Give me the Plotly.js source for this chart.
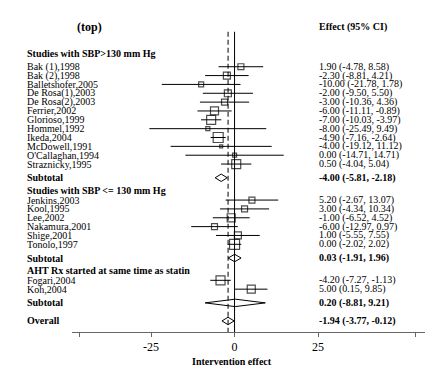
<!DOCTYPE html>
<html><head><meta charset="utf-8">
<script src="https://cdn.plot.ly/plotly-3.0.1.min.js"></script>
<style>html,body{margin:0;padding:0;background:#fff}#chart{width:434px;height:367px}</style>
</head><body><div id="chart"></div>
<script>
const groupTitles = ['Studies with SBP>130 mm Hg', 'Studies with SBP <= 130 mm Hg', 'AHT Rx started at same time as statin'];
const studyNames = ['Bak (1),1998','Bak (2),1998','Balletshofer,2005','De Rosa(1),2003','De Rosa(2),2003','Ferrier,2002','Glorioso,1999','Hommel,1992','Ikeda,2004','McDowell,1991',"O'Callaghan,1994",'Straznicky,1995',
  'Jenkins,2003','Kool,1995','Lee,2002','Nakamura,2001','Shige,2001','Tonolo,1997',
  'Fogari,2004','Koh,2004'];
const studyGroup = [0,0,0,0,0,0,0,0,0,0,0,0, 1,1,1,1,1,1, 2,2];
const studyEst  = [1.90,-2.30,-10.00,-2.00,-3.00,-6.00,-7.00,-8.00,-4.90,-4.00,0.00,0.50, 5.20,3.00,-1.00,-6.00,1.00,0.00, -4.20,5.00];
const studyLow  = [-4.78,-8.81,-21.78,-9.50,-10.36,-11.11,-10.03,-25.49,-7.16,-19.12,-14.71,-4.04, -2.67,-4.34,-6.52,-12.97,-5.55,-2.02, -7.27,0.15];
const studyHigh = [8.58,4.21,1.78,5.50,4.36,-0.89,-3.97,9.49,-2.64,11.12,14.71,5.04, 13.07,10.34,4.52,0.97,7.55,2.02, -1.13,9.85];
const studyWeight = [5.3,7.2,3.7,7.2,5.3,9.5,12.0,2.4,14.8,1.3,2.4,12.0, 5.3,5.3,9.5,5.3,7.2,14.8, 12.0,9.5];
const subtotalEst  = [-4.00, 0.03, 0.20];
const subtotalLow  = [-5.81, -1.91, -8.81];
const subtotalHigh = [-2.18, 1.96, 9.21];
const overallEst = -1.94, overallLow = -3.77, overallHigh = -0.12;
const xTickLabels = ['-25', '0', '25'];

const FONT = 'Liberation Serif, Times New Roman, serif';
const esc = s => s.replace(/</g,'&lt;').replace(/>/g,'&gt;');
const fmt = v => v.toFixed(2);
const ciText = (e,l,h) => `${fmt(e)} (${fmt(l)}, ${fmt(h)})`;

// row layout (y increases downward)
const yTop = -3.73, yBottom = 31.53;
const headerY = [], studyY = [], subY = [];
let cur = 0;
for (let g = 0; g < groupTitles.length; g++) {
  headerY.push(cur);
  cur += (g === 0 ? 1.55 : 1.12);
  let last = cur;
  studyNames.forEach((n, i) => { if (studyGroup[i] === g) { studyY[i] = cur; last = cur; cur += 1; } });
  subY.push(last + 1.55);
  cur = last + 1.55 + 1.4;
}
const overallY = subY[subY.length - 1] + 2.04;
const titleY = -2.94;

const traces = [];
// reference lines
traces.push({x:[0,0], y:[-2.4, yBottom], mode:'lines', line:{color:'#000', width:1}, hoverinfo:'skip'});
traces.push({x:[overallEst, overallEst], y:[-2.4, yBottom], mode:'lines', line:{color:'#000', width:1, dash:'5px,3px'}, hoverinfo:'skip'});
// CI lines
const cx = [], cy = [];
studyNames.forEach((n,i) => { cx.push(studyLow[i], studyHigh[i], null); cy.push(studyY[i], studyY[i], null); });
traces.push({x:cx, y:cy, mode:'lines', line:{color:'#000', width:1}, hoverinfo:'skip'});
// boxes
traces.push({x:studyEst, y:studyY, mode:'markers',
  marker:{symbol:'square-open', size:studyWeight.map(w => 2.6*Math.sqrt(w)), color:'#000', line:{color:'#000', width:1.2}}, hoverinfo:'skip'});
// diamonds
const dx = [], dy = [], h = 0.42;
const addDiamond = (e,l,hh,y) => { dx.push(l, e, hh, e, l, null); dy.push(y, y-h, y, y+h, y, null); };
subtotalEst.forEach((e,g) => addDiamond(e, subtotalLow[g], subtotalHigh[g], subY[g]));
addDiamond(overallEst, overallLow, overallHigh, overallY);
traces.push({x:dx, y:dy, mode:'lines', line:{color:'#000', width:1}, hoverinfo:'skip'});

const LX = -0.133, RX = 0.695;
const ann = [];
const A = (x, y, text, opts={}) => ann.push(Object.assign({xref:'paper', yref:'y', x, y, text, showarrow:false,
  xanchor:'left', yanchor:'middle', font:{family:FONT, size:10, color:'#000'}}, opts));
A(0.05, titleY, '<b>(top)</b>', {xanchor:'center', font:{family:FONT, size:12, color:'#000'}});
A(RX, titleY, '<b>Effect (95% CI)</b>');
groupTitles.forEach((t,g) => {
  A(LX, headerY[g], '<b>' + esc(t) + '</b>');
  A(LX, subY[g], '<b>Subtotal</b>');
  A(RX, subY[g], '<b>' + ciText(subtotalEst[g], subtotalLow[g], subtotalHigh[g]) + '</b>');
});
studyNames.forEach((n,i) => {
  A(LX, studyY[i], esc(n));
  A(RX, studyY[i], ciText(studyEst[i], studyLow[i], studyHigh[i]));
});
A(LX, overallY, '<b>Overall</b>');
A(RX, overallY, '<b>' + ciText(overallEst, overallLow, overallHigh) + '</b>');
ann.push({xref:'paper', yref:'paper', x:0.452, y:-0.096, text:'<b>Intervention effect</b>', showarrow:false,
  xanchor:'center', yanchor:'middle', font:{family:FONT, size:10, color:'#000'}});

const layout = {
  width:434, height:367,
  margin:{l:72, r:9, t:20, b:35, pad:0},
  paper_bgcolor:'#fff', plot_bgcolor:'#fff',
  showlegend:false, hovermode:false,
  font:{family:FONT, color:'#000'},
  xaxis:{range:[-48.65, 57.0], showgrid:false, zeroline:false, showline:true, linecolor:'#666', linewidth:1,
    ticks:'outside', ticklen:4, tickcolor:'#666', tickwidth:1,
    tickvals:[-46.3, -25, 0, 25, 54.3], ticktext:['', ...xTickLabels, ''],
    tickfont:{family:FONT, size:12, color:'#000'}},
  yaxis:{range:[yBottom, yTop], visible:false, showgrid:false, zeroline:false},
  annotations: ann
};
Plotly.newPlot('chart', traces, layout, {displayModeBar:false, staticPlot:true});
</script></body></html>
